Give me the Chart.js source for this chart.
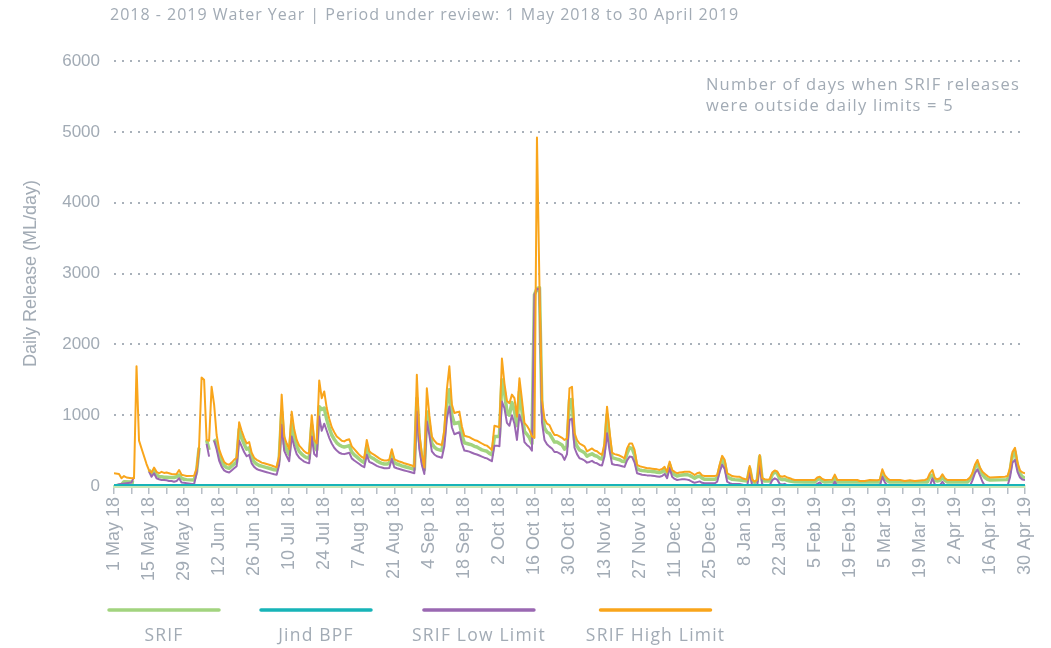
<!DOCTYPE html>
<html>
<head>
<meta charset="utf-8">
<title>SRIF daily releases 2018-2019</title>
<script src="https://cdn.jsdelivr.net/npm/chart.js@4.4.1/dist/chart.umd.min.js"></script>
<style>
    html, body { margin: 0; padding: 0; background: #ffffff; }
</style>
</head>
<body>
<canvas id="releaseChart" width="1051" height="648"></canvas>
<script>
// Tick labels on the x axis (one every 14 days, from 1 May 2018)
const tickLabels = ['1 May 18', '15 May 18', '29 May 18', '12 Jun 18', '26 Jun 18', '10 Jul 18', '24 Jul 18',
    '7 Aug 18', '21 Aug 18', '4 Sep 18', '18 Sep 18', '2 Oct 18', '16 Oct 18', '30 Oct 18', '13 Nov 18',
    '27 Nov 18', '11 Dec 18', '25 Dec 18', '8 Jan 19', '22 Jan 19', '5 Feb 19', '19 Feb 19', '5 Mar 19',
    '19 Mar 19', '2 Apr 19', '16 Apr 19', '30 Apr 19'];

const seriesNames = ['SRIF', 'Jind BPF', 'SRIF Low Limit', 'SRIF High Limit'];

// [day of water year, ML/day]
const srif = [[0,0],[2,10],[3,20],[4,60],[7,55],[8,50],[9,null],[13,null],[14,226],[15,180],[16,212],[17,155],
    [18,135],[19,130],[20,125],[21,125],[22,120],[23,120],[24,120],[25,130],[26,155],[27,110],[28,95],[29,90],
    [32,85],[33,200],[34,540],[35,null],[36,null],[37,650],[38,509],[39,null],[40,660],[41,600],[42,440],[43,350],
    [44,290],[45,260],[46,250],[47,280],[48,310],[49,340],[50,800],[51,680],[52,590],[53,520],[54,540],[55,400],
    [56,340],[57,310],[58,290],[59,280],[60,270],[61,260],[62,250],[63,240],[64,230],[65,225],[66,380],[67,1050],
    [68,600],[69,510],[70,440],[71,880],[72,680],[73,560],[74,490],[75,450],[76,420],[77,400],[78,390],[79,860],
    [80,560],[81,510],[82,1120],[83,1080],[84,1100],[85,940],[86,820],[87,720],[88,660],[89,610],[90,580],[91,560],
    [92,550],[93,560],[94,570],[95,480],[96,440],[97,410],[98,380],[99,350],[100,330],[101,560],[102,420],[103,400],
    [104,380],[105,355],[106,335],[107,320],[108,310],[109,310],[110,320],[111,450],[112,330],[113,310],[114,300],
    [115,285],[116,275],[117,265],[118,255],[119,245],[120,235],[121,1240],[122,650],[123,380],[124,226],[125,1050],
    [126,860],[127,600],[128,550],[129,520],[130,510],[131,500],[132,700],[133,1150],[134,1360],[135,1000],[136,880],
    [137,890],[138,900],[139,720],[140,610],[141,600],[142,590],[143,580],[144,560],[145,550],[146,530],[147,510],
    [148,500],[149,490],[150,460],[151,440],[152,700],[153,700],[154,700],[155,1500],[156,1330],[157,1050],[158,1000],
    [159,1180],[160,1060],[161,850],[162,1335],[163,1060],[164,770],[165,730],[166,680],[167,600],[168,2700],
    [169,2790],[170,2800],[171,1050],[172,820],[173,760],[174,740],[175,680],[176,620],[177,620],[178,600],[179,580],
    [180,520],[181,560],[182,1217],[183,1220],[184,650],[185,560],[186,509],[187,490],[188,470],[189,420],[190,440],
    [191,455],[192,430],[193,420],[194,392],[195,380],[196,520],[197,1005],[198,660],[199,400],[200,390],[201,380],
    [202,370],[203,350],[204,344],[205,460],[206,540],[207,530],[208,440],[209,240],[210,227],[211,220],[212,215],
    [213,210],[214,210],[215,205],[216,200],[217,195],[218,190],[219,200],[220,230],[221,165],[222,300],[223,190],
    [224,160],[225,140],[226,150],[227,155],[228,160],[229,160],[230,150],[231,130],[232,110],[233,130],[234,140],
    [235,110],[236,95],[240,95],[241,110],[242,250],[243,380],[244,320],[245,130],[246,110],[247,95],[248,90],
    [250,85],[253,70],[254,250],[255,70],[256,50],[257,70],[258,415],[259,80],[260,70],[262,70],[263,160],[264,200],
    [265,180],[266,100],[267,90],[268,95],[269,80],[270,70],[272,60],[276,55],[280,55],[281,90],[282,108],[283,70],
    [284,55],[287,60],[288,120],[289,55],[306,55],[307,180],[308,110],[309,75],[310,55],[325,55],[326,130],[327,155],
    [328,80],[329,70],[330,80],[331,120],[332,80],[333,55],[341,55],[342,90],[343,150],[344,260],[345,320],[346,230],
    [347,160],[348,120],[349,95],[350,85],[357,90],[358,200],[359,440],[360,486],[361,280],[362,170],[363,130],[364,110]];

const jindBpf = [[0,12],[364,12]];

const lowLimit = [[0,0],[2,25],[5,40],[7,50],[8,130],[9,null],[13,null],[14,203],[15,130],[16,180],[17,110],[18,95],
    [19,85],[20,85],[21,80],[22,70],[23,70],[24,60],[25,70],[26,110],[27,50],[28,45],[29,40],[32,25],[33,180],
    [34,520],[35,null],[36,null],[37,594],[38,415],[39,null],[40,641],[41,520],[42,360],[43,273],[44,220],[45,200],
    [46,190],[47,220],[48,250],[49,280],[50,640],[51,560],[52,480],[53,420],[54,440],[55,320],[56,270],[57,240],
    [58,225],[59,215],[60,205],[61,195],[62,185],[63,175],[64,165],[65,160],[66,300],[67,863],[68,500],[69,420],
    [70,350],[71,700],[72,560],[73,450],[74,400],[75,370],[76,345],[77,330],[78,320],[79,700],[80,450],[81,415],
    [82,980],[83,780],[84,880],[85,780],[86,680],[87,600],[88,540],[89,500],[90,470],[91,455],[92,450],[93,460],
    [94,470],[95,390],[96,360],[97,335],[98,310],[99,285],[100,265],[101,440],[102,340],[103,325],[104,305],[105,285],
    [106,270],[107,260],[108,250],[109,250],[110,255],[111,380],[112,265],[113,250],[114,240],[115,230],[116,220],
    [117,210],[118,200],[119,190],[120,180],[121,1051],[122,520],[123,300],[124,170],[125,910],[126,720],[127,490],
    [128,445],[129,420],[130,410],[131,400],[132,560],[133,950],[134,1122],[135,830],[136,730],[137,745],[138,760],
    [139,600],[140,500],[141,495],[142,485],[143,470],[144,455],[145,445],[146,430],[147,415],[148,400],[149,390],
    [150,370],[151,350],[152,570],[153,570],[154,560],[155,1193],[156,1100],[157,890],[158,850],[159,1000],[160,880],
    [161,650],[162,1005],[163,880],[164,620],[165,580],[166,550],[167,500],[168,2700],[169,2780],[170,2790],[171,900],
    [172,650],[173,590],[174,556],[175,530],[176,480],[177,480],[178,460],[179,440],[180,368],[181,450],[182,934],
    [183,950],[184,540],[185,450],[186,392],[187,380],[188,360],[189,330],[190,340],[191,355],[192,330],[193,320],
    [194,297],[195,290],[196,420],[197,745],[198,500],[199,310],[200,300],[201,297],[202,290],[203,280],[204,270],
    [205,360],[206,415],[207,410],[208,330],[209,180],[210,170],[211,160],[212,155],[213,150],[214,150],[215,145],
    [216,140],[217,135],[218,130],[219,140],[220,170],[221,110],[222,255],[223,130],[224,100],[225,85],[226,90],
    [227,95],[228,95],[229,90],[230,80],[231,60],[232,45],[233,55],[234,65],[235,45],[236,38],[240,38],[241,60],
    [242,200],[243,300],[244,240],[245,60],[246,40],[247,30],[250,28],[252,10],[253,0],[254,200],[255,0],[257,0],
    [258,297],[259,20],[260,10],[262,10],[263,80],[264,108],[265,90],[266,30],[267,20],[268,30],[269,10],[270,0],
    [280,0],[281,30],[282,50],[283,10],[284,0],[287,0],[288,60],[289,0],[306,0],[307,132],[308,50],[309,10],[310,0],
    [326,0],[327,108],[328,20],[329,0],[330,10],[331,60],[332,10],[333,0],[342,0],[343,80],[344,180],[345,236],
    [346,150],[347,60],[348,0],[357,0],[358,120],[359,330],[360,368],[361,200],[362,120],[363,90],[364,85]];

const highLimit = [[0,180],[2,170],[3,110],[4,140],[5,120],[7,110],[8,110],[9,1690],[10,640],[11,530],[12,420],
    [13,310],[14,220],[15,190],[16,260],[17,200],[18,180],[19,200],[20,185],[21,190],[22,180],[23,170],[24,165],
    [25,170],[26,225],[27,160],[28,150],[29,140],[32,145],[33,250],[34,560],[35,1530],[36,1500],[37,650],[38,640],
    [39,1400],[40,1150],[41,720],[42,520],[43,420],[44,340],[45,310],[46,300],[47,330],[48,370],[49,400],[50,900],
    [51,780],[52,680],[53,600],[54,620],[55,470],[56,400],[57,370],[58,350],[59,330],[60,320],[61,310],[62,300],
    [63,290],[64,275],[65,265],[66,430],[67,1290],[68,700],[69,600],[70,520],[71,1050],[72,800],[73,650],[74,570],
    [75,530],[76,490],[77,465],[78,460],[79,1000],[80,650],[81,600],[82,1490],[83,1240],[84,1335],[85,1100],[86,950],
    [87,830],[88,760],[89,700],[90,670],[91,640],[92,630],[93,650],[94,660],[95,560],[96,520],[97,480],[98,440],
    [99,410],[100,390],[101,650],[102,490],[103,460],[104,440],[105,415],[106,390],[107,370],[108,360],[109,360],
    [110,370],[111,520],[112,380],[113,360],[114,345],[115,335],[116,320],[117,310],[118,300],[119,290],[120,275],
    [121,1570],[122,750],[123,450],[124,260],[125,1380],[126,1000],[127,700],[128,640],[129,600],[130,590],[131,580],
    [132,790],[133,1360],[134,1690],[135,1150],[136,1030],[137,1040],[138,1050],[139,840],[140,710],[141,700],
    [142,690],[143,670],[144,650],[145,640],[146,620],[147,600],[148,580],[149,570],[150,540],[151,510],[152,850],
    [153,840],[154,830],[155,1800],[156,1450],[157,1200],[158,1170],[159,1290],[160,1240],[161,980],[162,1520],
    [163,1220],[164,890],[165,850],[166,790],[167,700],[168,680],[169,4920],[170,2820],[171,1220],[172,950],[173,880],
    [174,860],[175,780],[176,720],[177,720],[178,700],[179,680],[180,650],[181,670],[182,1380],[183,1400],[184,750],
    [185,650],[186,600],[187,580],[188,560],[189,490],[190,510],[191,530],[192,500],[193,490],[194,460],[195,440],
    [196,600],[197,1120],[198,770],[199,470],[200,450],[201,440],[202,430],[203,410],[204,390],[205,530],[206,600],
    [207,600],[208,510],[209,300],[210,280],[211,270],[212,260],[213,250],[214,250],[215,245],[216,240],[217,235],
    [218,227],[219,240],[220,270],[221,200],[222,344],[223,227],[224,200],[225,180],[226,190],[227,195],[228,200],
    [229,200],[230,200],[231,180],[232,155],[233,180],[234,190],[235,150],[236,140],[240,140],[241,150],[242,300],
    [243,425],[244,370],[245,180],[246,160],[247,140],[248,135],[249,130],[250,130],[251,110],[252,100],[253,90],
    [254,283],[255,90],[256,60],[257,90],[258,438],[259,110],[260,95],[261,90],[262,95],[263,190],[264,220],
    [265,205],[266,140],[267,130],[268,140],[269,120],[270,110],[271,95],[272,85],[276,85],[280,85],[281,120],
    [282,130],[283,100],[284,85],[287,90],[288,160],[289,85],[297,85],[298,70],[300,70],[302,85],[305,80],[306,90],
    [307,236],[308,150],[309,110],[310,85],[314,85],[316,70],[318,80],[320,70],[324,85],[325,100],[326,180],[327,226],
    [328,110],[329,95],[330,110],[331,165],[332,110],[333,85],[340,85],[341,90],[342,120],[343,180],[344,300],
    [345,368],[346,260],[347,200],[348,170],[349,140],[350,120],[356,130],[357,140],[358,250],[359,480],[360,540],
    [361,330],[362,220],[363,190],[364,180]];

const titleText = '2018 - 2019 Water Year | Period under review: 1 May 2018 to 30 April 2019';
const noteLines = ['Number of days when SRIF releases', 'were outside daily limits = 5'];

const textGrey = '#a2abb5';
const headFont = "'Open Sans', Lato, sans-serif";
const axisFont = "'Liberation Sans', Arial, sans-serif";

function toPoints(pairs) {
    return pairs.map(p => ({ x: p[0], y: p[1] }));
}

// title, note and the line-over-label legend
const decorPlugin = {
    id: 'decor',
    afterDraw(chart) {
        const ctx = chart.ctx;
        ctx.save();
        ctx.fillStyle = textGrey;
        ctx.textBaseline = 'middle';
        ctx.textAlign = 'left';

        ctx.font = '16px ' + headFont;
        ctx.letterSpacing = '1px';
        ctx.fillText(titleText, 110, 15);

        ctx.font = '16.5px ' + headFont;
        ctx.letterSpacing = '1.2px';
        ctx.fillText(noteLines[0], 706, 85);
        ctx.fillText(noteLines[1], 706, 106);

        // legend
        ctx.font = '17.5px ' + headFont;
        ctx.letterSpacing = '1.2px';
        ctx.textAlign = 'center';
        let cursor = 108;
        chart.data.datasets.forEach(ds => {
            const w = Math.max(112, ctx.measureText(ds.label).width);
            const cx = cursor + w / 2;
            ctx.strokeStyle = ds.borderColor;
            ctx.lineWidth = 3.5;
            ctx.lineCap = 'round';
            ctx.beginPath();
            ctx.moveTo(cx - 55, 610);
            ctx.lineTo(cx + 55, 610);
            ctx.stroke();
            ctx.fillText(ds.label, cx, 636);
            cursor += w + 40;
        });
        ctx.restore();
    }
};

const ctx = document.getElementById('releaseChart').getContext('2d');

new Chart(ctx, {
    type: 'line',
    data: {
        datasets: [{
            label: seriesNames[0],
            data: toPoints(srif),
            borderColor: '#a2d47f',
            borderWidth: 3.5,
            order: 3
        }, {
            label: seriesNames[1],
            data: toPoints(jindBpf),
            borderColor: '#17b4b8',
            borderWidth: 2.5,
            order: 0
        }, {
            label: seriesNames[2],
            data: toPoints(lowLimit),
            borderColor: '#9a68b2',
            borderWidth: 2,
            order: 2
        }, {
            label: seriesNames[3],
            data: toPoints(highLimit),
            borderColor: '#f9a51b',
            borderWidth: 2,
            order: 1
        }]
    },
    options: {
        responsive: false,
        animation: false,
        spanGaps: false,
        elements: {
            point: { radius: 0 },
            line: { tension: 0, borderJoinStyle: 'round' }
        },
        layout: {
            padding: { top: 61, right: 26, bottom: 0, left: 0 }
        },
        scales: {
            x: {
                type: 'linear',
                min: 0,
                max: 364,
                afterFit: scale => { scale.height = 162; },
                grid: {
                    drawOnChartArea: false,
                    drawTicks: true,
                    tickLength: 8,
                    color: '#b7bec6',
                    lineWidth: 1.5
                },
                border: { display: true, color: '#c9e6b5', width: 3 },
                ticks: {
                    stepSize: 7,
                    autoSkip: false,
                    maxRotation: 90,
                    minRotation: 90,
                    padding: 3,
                    color: textGrey,
                    font: { family: axisFont, size: 18 },
                    callback: v => (v % 14 === 0 ? tickLabels[v / 14] : '')
                }
            },
            y: {
                min: 0,
                max: 6000,
                afterFit: scale => { scale.width = 114; },
                grid: {
                    color: '#a9b1ba',
                    lineWidth: 2,
                    drawTicks: false
                },
                border: { display: false, dash: [2, 6] },
                ticks: {
                    stepSize: 1000,
                    padding: 14,
                    color: textGrey,
                    font: { family: axisFont, size: 17 },
                    callback: v => String(v)
                },
                title: {
                    display: true,
                    text: 'Daily Release (ML/day)',
                    color: textGrey,
                    padding: { top: 20, bottom: 0 },
                    font: { family: axisFont, size: 18 }
                }
            }
        },
        plugins: {
            legend: { display: false },
            tooltip: { enabled: false }
        }
    },
    plugins: [decorPlugin]
});
</script>
</body>
</html>
